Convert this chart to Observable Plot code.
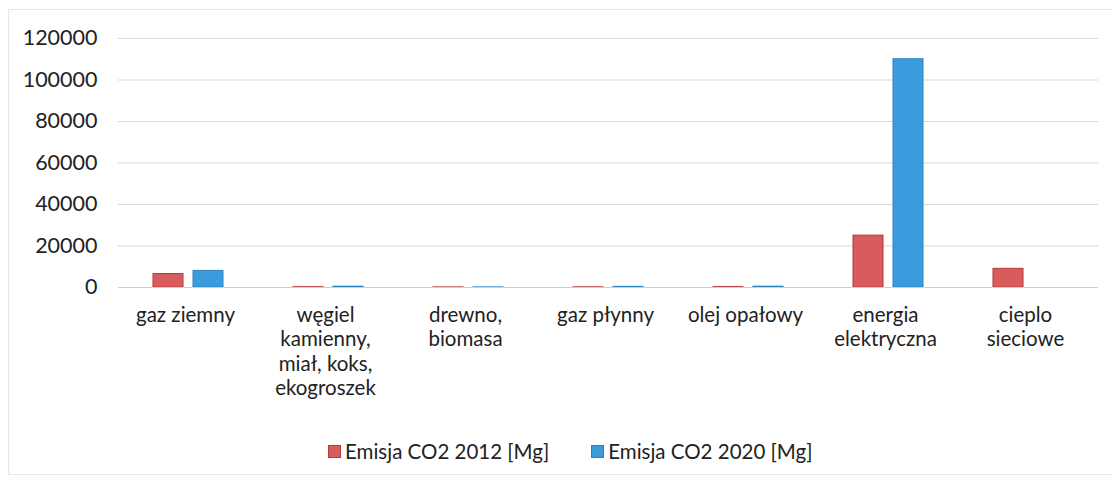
<!DOCTYPE html>
<html>
<head>
<meta charset="utf-8">
<script src="https://cdn.jsdelivr.net/npm/d3@7"></script>
<script src="https://cdn.jsdelivr.net/npm/@observablehq/plot@0.6"></script>
<style>
  html, body { margin: 0; padding: 0; background: #fff; }
  #wrap { position: relative; width: 1112px; height: 482px; overflow: hidden; font-family: Lato, "Open Sans", sans-serif; }
  #frame { position: absolute; left: 8px; top: 9px; width: 1110px; height: 466px; border: 1px solid #e8e8e8; box-sizing: border-box; }
  #chart { position: absolute; left: 0; top: 0; }
  #legend { position: absolute; left: 328px; top: 439px; display: flex; gap: 42px; font-size: 20.5px; color: #222; }
  .item { display: flex; align-items: center; gap: 4px; }
  .sw { width: 13px; height: 13px; box-sizing: border-box; display: inline-block; }
</style>
</head>
<body>
<div id="wrap">
  <div id="frame"></div>
  <div id="chart"></div>
  <div id="legend"></div>
</div>
<script>
const categories = ["gaz ziemny", "węgiel\nkamienny,\nmiał, koks,\nekogroszek", "drewno,\nbiomasa", "gaz płynny", "olej opałowy", "energia\nelektryczna", "cieplo\nsieciowe"];
const seriesNames = ["Emisja CO2 2012 [Mg]", "Emisja CO2 2020 [Mg]"];
const values2012 = [6500, 150, 50, 100, 200, 25000, 9000];
const values2020 = [8000, 400, 50, 300, 400, 110000, 0];
const yTicks = [0, 20000, 40000, 60000, 80000, 100000, 120000];
const fills = ["#d85c5c", "#3a9cdc"];
const strokes = ["#b4393b", "#2c82c2"];

const table = [];
categories.forEach((c, i) => {
  table.push({category: c, series: seriesNames[0], value: values2012[i]});
  table.push({category: c, series: seriesNames[1], value: values2020[i]});
});

const chart = Plot.plot({
  width: 1112,
  height: 420,
  marginLeft: 116,
  marginRight: 12,
  marginTop: 38,
  marginBottom: 133,
  style: {fontFamily: "Lato, 'Open Sans', sans-serif", fontSize: "20.5px", color: "#222", background: "transparent"},
  fx: {domain: categories, padding: 0, label: null},
  x: {domain: seriesNames, axis: null, paddingInner: 0.244, paddingOuter: 0.837},
  y: {domain: [0, 120000], ticks: yTicks, label: null},
  marks: [
    Plot.gridY(yTicks, {stroke: "#d9d9d9", strokeOpacity: 1, strokeWidth: 1}),
    Plot.axisY({ticks: yTicks, tickSize: 0, tickPadding: 21, fontSize: 21.5, tickFormat: d => String(d), label: null}),
    Plot.axisFx({anchor: "bottom", tickSize: 0, tickPadding: 17, fontSize: 20.5, lineHeight: 1.19, label: null, tickFormat: d => d, dx: -3}),
    Plot.barY(table.filter(d => d.series === seriesNames[0]), {fx: "category", x: "series", y: "value", fill: fills[0], stroke: strokes[0], strokeWidth: 1}),
    Plot.barY(table.filter(d => d.series === seriesNames[1]), {fx: "category", x: "series", y: "value", fill: fills[1], stroke: strokes[1], strokeWidth: 1}),
    Plot.ruleY([0], {stroke: "#cfcfcf"})
  ]
});
document.getElementById("chart").appendChild(chart);

const legend = document.getElementById("legend");
seriesNames.forEach((s, i) => {
  const it = document.createElement("div");
  it.className = "item";
  const sw = document.createElement("span");
  sw.className = "sw";
  sw.style.background = fills[i];
  sw.style.border = "1px solid " + strokes[i];
  const t = document.createElement("span");
  t.textContent = s;
  it.appendChild(sw); it.appendChild(t);
  legend.appendChild(it);
});
</script>
</body>
</html>
